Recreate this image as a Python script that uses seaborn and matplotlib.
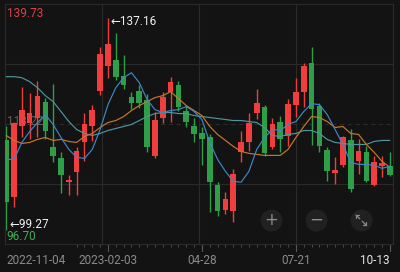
import matplotlib
matplotlib.use("Agg")
import matplotlib.pyplot as plt
import matplotlib.transforms as mtransforms
import numpy as np
import pandas as pd
import seaborn as sns

# ---------------- data ----------------
dates = ["2022-11-04", "2022-11-11", "2022-11-18", "2022-11-25", "2022-12-02", "2022-12-09",
         "2022-12-16", "2022-12-23", "2022-12-30", "2023-01-06", "2023-01-13", "2023-01-20",
         "2023-01-27", "2023-02-03", "2023-02-10", "2023-02-17", "2023-02-24", "2023-03-03",
         "2023-03-10", "2023-03-17", "2023-03-24", "2023-03-31", "2023-04-07", "2023-04-14",
         "2023-04-21", "2023-04-28", "2023-05-05", "2023-05-12", "2023-05-19", "2023-05-26",
         "2023-06-02", "2023-06-09", "2023-06-16", "2023-06-23", "2023-06-30", "2023-07-07",
         "2023-07-14", "2023-07-21", "2023-07-28", "2023-08-04", "2023-08-11", "2023-08-18",
         "2023-08-25", "2023-09-01", "2023-09-08", "2023-09-15", "2023-09-22", "2023-09-29",
         "2023-10-06", "2023-10-13"]

opens = [115.27, 105.09, 117.77, 118.48, 119.38, 122.23, 114.02, 112.05, 107.77, 109.55,
         114.91, 117.77, 124.19, 128.66, 129.73, 126.87, 123.12, 124.19, 122.59, 112.41,
         119.38, 124.02, 125.27, 120.63, 117.77, 116.52, 115.80, 107.23, 102.77, 102.59,
         113.13, 114.91, 120.27, 121.34, 114.02, 118.66, 115.98, 121.69, 124.02, 129.19,
         121.52, 113.48, 109.38, 110.80, 115.27, 111.52, 113.13, 107.23, 110.63, 110.63]
closes = [104.20, 118.48, 120.80, 120.27, 123.30, 116.88, 112.41, 109.02, 108.13, 113.30,
          118.13, 120.80, 130.80, 132.59, 126.69, 125.27, 122.05, 122.05, 114.02, 119.02,
          123.12, 125.80, 121.34, 118.66, 116.34, 115.45, 107.77, 102.59, 104.73, 109.20,
          114.91, 118.48, 122.05, 112.95, 118.30, 115.45, 121.87, 124.02, 128.66, 120.98,
          114.20, 109.73, 109.91, 115.80, 106.52, 113.30, 107.95, 111.34, 111.16, 109.02]
highs = [117.77, 118.60, 124.91, 123.84, 125.98, 122.95, 125.44, 113.13, 109.02, 114.02,
         120.27, 121.69, 132.05, 137.16, 134.55, 130.62, 124.02, 125.27, 123.66, 120.45,
         124.02, 126.69, 125.98, 121.52, 119.38, 117.59, 116.34, 107.77, 105.98, 110.09,
         116.88, 120.27, 124.55, 121.69, 119.38, 119.73, 122.77, 126.52, 129.19, 132.05,
         122.05, 114.02, 112.23, 115.98, 117.23, 115.45, 114.20, 112.41, 112.41, 113.13]
lows = [99.27, 103.30, 115.80, 115.45, 115.80, 115.45, 111.34, 105.80, 105.45, 105.45,
        111.52, 115.09, 123.48, 126.52, 126.16, 124.55, 120.98, 121.16, 113.13, 112.05,
        118.48, 118.66, 120.63, 117.59, 114.91, 110.80, 102.41, 101.70, 102.05, 100.63,
        111.34, 113.30, 119.19, 112.41, 113.66, 113.13, 114.20, 119.55, 121.34, 114.37,
        113.13, 107.95, 107.41, 110.45, 105.98, 109.20, 107.77, 107.05, 108.66, 108.84]

ma_short = [111.87, 111.87, 114.91, 116.88, 118.48, 119.91, 118.13, 115.80, 113.66, 112.23,
            112.05, 113.66, 117.23, 121.69, 124.73, 126.52, 127.41, 125.62, 122.59, 120.80,
            120.27, 120.63, 120.80, 121.34, 120.45, 119.02, 114.91, 111.87, 109.73, 107.95,
            107.77, 109.73, 113.66, 115.80, 117.23, 117.05, 118.13, 118.66, 120.45, 121.87,
            121.69, 119.91, 117.23, 114.55, 111.34, 110.98, 110.98, 110.80, 110.27, 110.63]
ma_mid = [116.16, 115.27, 114.73, 114.91, 115.45, 115.80, 115.27, 115.45, 115.09, 114.91,
          115.98, 116.52, 117.59, 118.48, 118.84, 119.55, 120.63, 121.52, 122.23, 122.95,
          123.30, 124.02, 122.77, 121.52, 120.63, 119.73, 117.77, 116.34, 115.27, 114.20,
          113.30, 112.95, 112.77, 112.59, 112.59, 112.59, 113.66, 115.80, 117.77, 119.55,
          119.38, 118.66, 117.59, 117.77, 116.52, 116.34, 114.55, 113.13, 111.52, 110.45]
ma_long = [126.70, 126.70, 126.52, 125.80, 124.73, 123.30, 122.23, 120.45, 118.66, 117.23,
           116.52, 116.16, 116.52, 117.05, 117.41, 117.77, 118.13, 118.84, 119.55, 120.09,
           120.27, 120.27, 120.09, 120.09, 119.73, 119.55, 119.38, 119.20, 119.02, 118.84,
           118.84, 118.66, 118.48, 117.59, 116.16, 115.98, 116.34, 116.52, 117.05, 117.05,
           116.52, 115.45, 114.91, 114.73, 114.55, 114.55, 114.55, 115.09, 115.27, 115.27]

tick_idx = [0, 13, 25, 37, 49]
tick_labels = ["2022-11-04", "2023-02-03", "04-28", "07-21", "10-13"]
y_top, y_mid, y_bot = 139.73, 118.22, 96.70
max_high, min_low = 137.16, 99.27

# ---------------- style ----------------
BG = "#131313"
GRID = "#2a2a2a"
UP = "#f03d3d"
DOWN = "#2f9e48"
ICON = "#8a8a8a"
sns.set_theme(style="dark", rc={"axes.facecolor": BG, "figure.facecolor": BG})
plt.rcParams["font.family"] = ["Roboto", "DejaVu Sans"]

df = pd.DataFrame({"i": np.arange(len(dates)), "date": dates, "open": opens,
                   "close": closes, "high": highs, "low": lows,
                   "ma_s": ma_short, "ma_m": ma_mid, "ma_l": ma_long})
df["up"] = df["close"] >= df["open"]
df["color"] = np.where(df["up"], UP, DOWN)

fig = plt.figure(figsize=(4.0, 2.72), dpi=100, facecolor=BG)
ax = fig.add_axes([0.0125, 0.1029, 0.97, 0.8824], facecolor=BG)
ax.set_xlim(-0.15, 49.4)
ax.set_ylim(y_bot, y_top)

# grid
for fy, ls in [(0.25, "-"), (0.5, (0, (4, 3))), (0.75, "-")]:
    ax.plot([0, 1], [fy, fy], transform=ax.transAxes, color=GRID, lw=0.8, ls=ls, zorder=0)
for fx in [0.25, 0.5, 0.75]:
    ax.plot([fx, fx], [0, 1], transform=ax.transAxes, color=GRID, lw=0.8, zorder=0)
for s in ax.spines.values():
    s.set_color(GRID)
    s.set_linewidth(0.8)
    s.set_visible(True)

# mid label behind candles
ax.text(0.004, 0.5 + 0.012, f"{y_mid:.2f}", transform=ax.transAxes, ha="left", va="center",
        fontsize=8.5, color="#626262", zorder=1)

# candles
ax.vlines(df["i"], df["low"], df["high"], colors=df["color"], lw=1.0, zorder=2)
body_lo = np.minimum(df["open"], df["close"])
body_h = np.maximum(np.abs(df["close"] - df["open"]), 0.12)
ax.bar(df["i"], body_h, bottom=body_lo, width=0.72, color=df["color"], lw=0, zorder=3)

# moving averages
sns.lineplot(data=df, x="i", y="ma_l", color="#4d959f", lw=0.85, ax=ax, zorder=4)
sns.lineplot(data=df, x="i", y="ma_m", color="#c5782c", lw=0.85, ax=ax, zorder=5)
sns.lineplot(data=df, x="i", y="ma_s", color="#3c88c6", lw=0.85, ax=ax, zorder=6)
ax.set_xlabel("")
ax.set_ylabel("")

# price labels
ax.text(0.004, 0.96, f"{y_top:.2f}", transform=ax.transAxes, ha="left", va="center",
        fontsize=8.5, color="#d84444", zorder=7)
ax.text(0.004, 0.03, f"{y_bot:.2f}", transform=ax.transAxes, ha="left", va="center",
        fontsize=8.5, color="#3fae55", zorder=7)
i_max = int(np.argmax(highs))
i_min = int(np.argmin(lows))
ax.annotate(f"\u2190{max_high:.2f}", xy=(df["i"][i_max], max_high), xytext=(1.5, -2.2),
            textcoords="offset points", ha="left", va="center", fontsize=8.5,
            color="#f0f0f0", zorder=8)
ax.annotate(f"\u2190{min_low:.2f}", xy=(df["i"][i_min], min_low), xytext=(2.5, 4.0),
            textcoords="offset points", ha="left", va="center", fontsize=8.5,
            color="#f0f0f0", zorder=8)

# x ticks
ax.set_yticks([])
ax.set_xticks(tick_idx)
ax.set_xticklabels(tick_labels)
ax.set_xticks(np.arange(9, len(dates)), minor=True)
ax.tick_params(axis="x", which="major", length=0, pad=7, labelsize=8.5, labelcolor="#8a8a8a")
ax.tick_params(axis="x", which="minor", length=2.5, width=0.7, color="#4a4a4a", bottom=True)
labs = ax.get_xticklabels()
labs[0].set_ha("left")
labs[-1].set_ha("right")
labs[-1].set_color("#e6e6e6")
trans = mtransforms.blended_transform_factory(ax.transData, ax.transAxes)
for t in tick_idx[1:]:
    ax.plot([t, t], [0, -0.028], transform=trans, color="#5a5a5a", lw=0.8, clip_on=False)

# zoom buttons (UI decoration)
px, py = 1 / 388, 1 / 240
for fx, sym in [(0.6856, "+"), (0.8015, "\u2212")]:
    ax.scatter([fx], [0.1], s=250, color="#212121", transform=ax.transAxes, zorder=9, lw=0)
    ax.text(fx, 0.1, sym, transform=ax.transAxes, ha="center", va="center", fontsize=12,
            color=ICON, zorder=10, family="DejaVu Sans")
fx, fy = 0.9175, 0.1
ax.scatter([fx], [fy], s=250, color="#212121", transform=ax.transAxes, zorder=9, lw=0)
for sgn in (-1, 1):
    cx, cy = fx + sgn * 5 * px, fy - sgn * 5 * py
    ax.plot([cx, fx + sgn * 1.2 * px], [cy, fy - sgn * 1.2 * py], transform=ax.transAxes,
            color=ICON, lw=0.9, zorder=10, solid_capstyle="round")
    ax.plot([cx - sgn * 3 * px, cx, cx], [cy, cy, cy + sgn * 3 * py], transform=ax.transAxes,
            color=ICON, lw=0.9, zorder=10, solid_capstyle="round", solid_joinstyle="miter")

fig.savefig("out.png", dpi=100, facecolor=BG)
